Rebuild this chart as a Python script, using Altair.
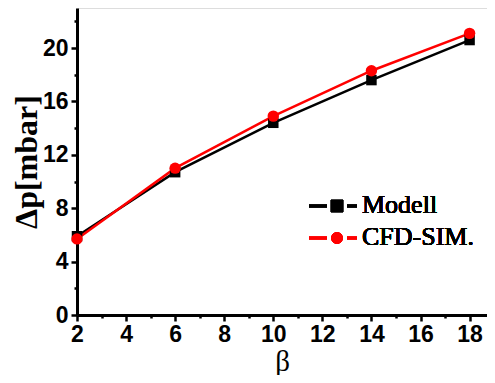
import altair as alt
import pandas as pd

beta = [2, 6, 10, 14, 18]
modell = [5.9, 10.7, 14.4, 17.6, 20.6]
cfd = [5.7, 11.0, 14.9, 18.3, 21.1]
series_names = ["Modell", "CFD-SIM."]
series_colors = ["#000000", "#ff0000"]
x_ticks = list(range(2, 19))
y_ticks = list(range(0, 23, 2))

df = pd.DataFrame({
    "beta": beta * 2,
    "dp": modell + cfd,
    "series": [series_names[0]] * len(beta) + [series_names[1]] * len(beta),
})

xs = alt.Scale(domain=[2, 18.71], nice=False, zero=False)
ys = alt.Scale(domain=[0, 23], nice=False)

x_axis = alt.Axis(
    values=x_ticks, title="β", grid=False,
    labelExpr="datum.value % 2 == 0 ? datum.label : ''",
    tickSize={"condition": {"test": "datum.value % 2 == 0", "value": 6}, "value": 3},
    labelFont="Liberation Sans", labelFontWeight="bold", labelFontSize=23, labelColor="black",
    labelPadding=2, labelFlush=False, labelOverlap=False,
    titleFont="Liberation Serif", titleFontWeight="normal", titleFontSize=29, titleColor="black",
    titlePadding=1,
    domainColor="black", domainWidth=3, tickColor="black", tickWidth=2.5,
)
y_axis = alt.Axis(
    values=y_ticks, title="Δp[mbar]", grid=False,
    labelExpr="datum.value % 4 == 0 ? datum.label : ''",
    tickSize={"condition": {"test": "datum.value % 4 == 0", "value": 6}, "value": 3},
    labelFont="Liberation Sans", labelFontWeight="bold", labelFontSize=23, labelColor="black",
    labelPadding=3, labelFlush=False, labelOverlap=False,
    titleFont="Liberation Serif", titleFontWeight="bold", titleFontSize=32, titleColor="black",
    titleX=-51, titleY=153.5, titleAngle=270, titleAlign="center", titleBaseline="middle",
    domainColor="black", domainWidth=3, tickColor="black", tickWidth=2.5,
)

color = alt.Color("series:N", scale=alt.Scale(domain=series_names, range=series_colors), legend=None)

base = alt.Chart(df).encode(
    x=alt.X("beta:Q", scale=xs, axis=x_axis),
    y=alt.Y("dp:Q", scale=ys, axis=y_axis),
    color=color,
)
lines = base.mark_line(strokeWidth=2.5)
sq = base.transform_filter(alt.datum.series == series_names[0]).mark_point(
    shape="square", filled=True, size=110, opacity=1)
ci = base.transform_filter(alt.datum.series == series_names[1]).mark_point(
    shape="circle", filled=True, size=130, opacity=1)

# legend
legend_rows = [198, 230]
leg = []
for name, col, yy, shp, sz in zip(series_names, series_colors, legend_rows, ["square", "circle"], [150, 135]):
    leg.append(alt.Chart(df).mark_rule(color=col, strokeWidth=2.5).encode(
        x=alt.value(232), x2=alt.value(250), y=alt.value(yy)))
    leg.append(alt.Chart(df).mark_rule(color=col, strokeWidth=2.5).encode(
        x=alt.value(270), x2=alt.value(280), y=alt.value(yy)))
    leg.append(alt.Chart(df).mark_point(shape=shp, filled=True, size=sz, color=col, opacity=1).encode(
        x=alt.value(260), y=alt.value(yy)))
    leg.append(alt.Chart(df).mark_text(text=name, align="left", baseline="middle", font="Liberation Serif",
                                       fontSize=26, fontWeight="normal", color="black").encode(
        x=alt.value(285), y=alt.value(yy - 1)))

chart = alt.layer(lines, sq, ci, *leg).properties(
    width=410, height=307,
    autosize=alt.AutoSizeParams(type="none"),
    padding={"left": 69, "top": 0, "right": 0, "bottom": 60},
).configure_view(stroke=None).configure(background="white")

chart.save("out.html", embed_options={"renderer": "svg", "actions": False})
